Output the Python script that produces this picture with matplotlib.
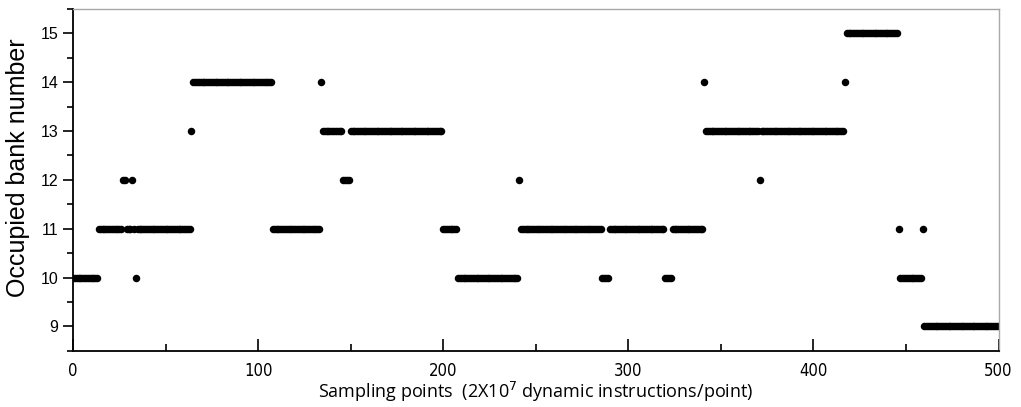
import numpy as np
import matplotlib
matplotlib.use("Agg")
import matplotlib.pyplot as plt
from matplotlib.ticker import MultipleLocator

# Runs of constant bank number: (first sample, last sample, occupied banks)
run_start = [0, 14, 27, 29, 32, 33, 34, 35, 64, 65, 108, 134, 135, 146, 150,
             200, 208, 241, 242, 286, 290, 320, 324, 341, 342, 371, 372, 417,
             418, 446, 447, 459, 460]
run_end = [13, 26, 28, 31, 32, 33, 34, 63, 64, 107, 133, 134, 145, 149, 199,
           207, 240, 241, 285, 289, 319, 323, 340, 341, 370, 371, 416, 417,
           445, 446, 458, 459, 500]
run_level = [10, 11, 12, 11, 12, 11, 10, 11, 13, 14, 11, 14, 13, 12, 13,
             11, 10, 12, 11, 10, 11, 10, 11, 14, 13, 12, 13, 14,
             15, 11, 10, 11, 9]

x = np.concatenate([np.arange(s, e + 1) for s, e in zip(run_start, run_end)])
y = np.concatenate([np.full(e - s + 1, v) for s, e, v in zip(run_start, run_end, run_level)])

fig = plt.figure(figsize=(10.21, 4.07), dpi=100)
ax = fig.add_axes([0.0715, 0.138, 0.9065, 0.84])

ax.plot(x, y, 'o', ms=5.4, color='black', markeredgewidth=0)

ax.set_xlim(0, 500)
ax.set_ylim(8.5, 15.5)

ax.xaxis.set_major_locator(MultipleLocator(100))
ax.xaxis.set_minor_locator(MultipleLocator(50))
ax.yaxis.set_major_locator(MultipleLocator(1))
ax.yaxis.set_minor_locator(MultipleLocator(0.5))

ax.tick_params(axis='x', which='major', direction='in', length=9, width=1.2, pad=8)
ax.tick_params(axis='x', which='minor', direction='in', length=5, width=1.2)
ax.tick_params(axis='y', which='major', direction='out', length=7, width=1.2)
ax.tick_params(axis='y', which='minor', direction='out', length=4, width=1.2)

for lab in ax.get_xticklabels():
    lab.set_fontfamily('DejaVu Sans')
    lab.set_fontstretch('condensed')
    lab.set_fontsize(12)
for lab in ax.get_yticklabels():
    lab.set_fontfamily('Liberation Sans')
    lab.set_fontsize(11.5)

for side in ['left', 'bottom']:
    ax.spines[side].set_linewidth(1.3)
    ax.spines[side].set_color('black')
for side in ['top', 'right']:
    ax.spines[side].set_linewidth(1.0)
    ax.spines[side].set_color('#a8a8a8')

ax.set_ylabel("Occupied bank number", fontfamily='Liberation Sans', fontsize=18)
ax.yaxis.set_label_coords(-0.047, 0.535)
ax.set_xlabel("Sampling points  (2X10$^7$ dynamic instructions/point)",
              fontfamily='Open Sans', fontsize=13, labelpad=0)

plt.savefig("out.png", dpi=100)
